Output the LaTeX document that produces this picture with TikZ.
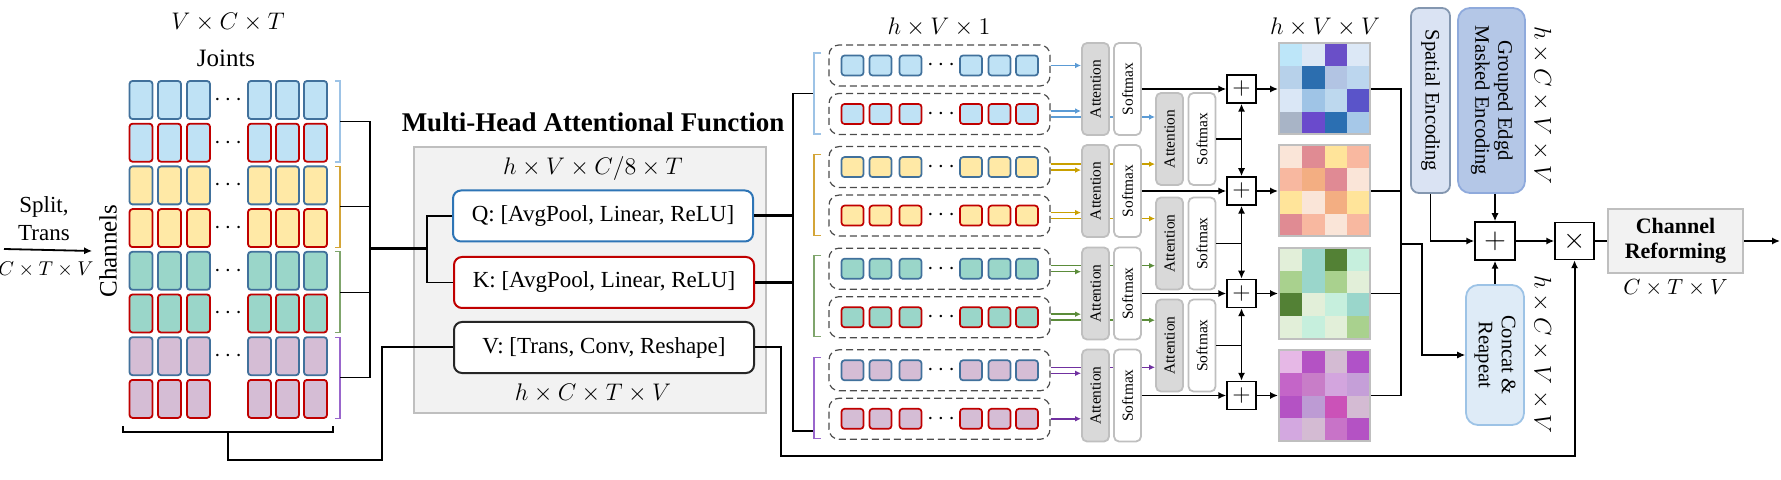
\documentclass[tikz,border=0pt]{standalone}
\usepackage{fontspec}
\setmainfont{Liberation Serif}
\usepackage{graphicx}
\usetikzlibrary{arrows.meta,backgrounds}

\definecolor{qblue}{HTML}{41719C}
\definecolor{kred}{HTML}{C00000}
\definecolor{qbox}{HTML}{2E75B6}
\definecolor{vbox}{HTML}{262626}
\definecolor{fblue}{HTML}{BFE2F5}
\definecolor{fyel}{HTML}{FFE9A6}
\definecolor{fgrn}{HTML}{9AD6C9}
\definecolor{fpur}{HTML}{D5BDD5}
\definecolor{bblue}{HTML}{9DC3E6}
\definecolor{byel}{HTML}{D4A537}
\definecolor{bgrn}{HTML}{7FA56C}
\definecolor{bpur}{HTML}{9966CC}
\definecolor{ablue}{HTML}{5B9BD5}
\definecolor{ayel}{HTML}{C9A000}
\definecolor{agrn}{HTML}{5B8C3A}
\definecolor{apur}{HTML}{7030A0}
\definecolor{boxgrey}{HTML}{BFBFBF}
\definecolor{panel}{HTML}{F2F2F2}
\definecolor{sefill}{HTML}{DAE3F3}
\definecolor{seline}{HTML}{8497B0}
\definecolor{gefill}{HTML}{B4C7E7}
\definecolor{geline}{HTML}{8FAADC}
\definecolor{crfill}{HTML}{DEEBF7}
\definecolor{crline}{HTML}{9DC3E6}

\begin{document}
\begin{tikzpicture}[x=0.5pt,y=-0.5pt,font=\fontsize{11.5}{13.8}\selectfont,
    cellbox/.style={draw,rounded corners=1.5pt,line width=0.9pt,minimum width=11.5pt,minimum height=19pt,inner sep=0pt},
    tok/.style={draw,rounded corners=1.5pt,line width=0.85pt,minimum width=11pt,minimum height=10pt,inner sep=0pt},
    rowbox/.style={draw=black!70,dash pattern=on 3.5pt off 2pt,rounded corners=5pt,line width=0.6pt,minimum width=110.5pt,minimum height=20.5pt},
    fnbox/.style={draw,rounded corners=4pt,line width=1pt,fill=white,minimum width=150pt,minimum height=25.5pt},
    attn/.style={draw=boxgrey,fill=black!15,rounded corners=2.5pt,line width=0.9pt,minimum width=13.5pt,minimum height=46pt,inner sep=0pt,font=\fontsize{7.7}{9}\selectfont},
    smax/.style={attn,fill=white},
    opbox/.style={draw,line width=0.75pt,fill=white,inner sep=0pt},
    enc/.style={draw,rounded corners=4pt,line width=0.9pt,minimum height=92.5pt,inner sep=0pt,font=\fontsize{10.3}{11.5}\selectfont},
    link/.style={line width=0.6pt},
    tip/.style={-{Latex[length=4pt,width=3.6pt]},line width=0.9pt},
    ctip/.style={-{Latex[length=3pt,width=2.8pt]},line width=0.7pt}]
\useasboundingbox (0,0) rectangle (1781,480);

% input and joint grid
\coordinate (in) at (4,249);
\node[rotate=90,font=\fontsize{12.5}{14}\selectfont] (chan) at (108,251) {Channels};
\draw[tip] (in) -- (chan.north);
\node[align=center,font=\fontsize{11.5}{14}\selectfont] (split) at (44,219) {Split,\\Trans};
\node[font=\fontsize{10}{12}\selectfont] (indim) at (46,270) {$C\times T\times V$};
\node (jdim) at (228,22) {$V\times C\times T$};
\node[font=\fontsize{12.5}{14}\selectfont] (joints) at (226,58) {Joints};

\foreach \g/\fc in {0/fblue,1/fyel,2/fgrn,3/fpur}
  \foreach \r/\ec in {0/qblue,1/kred}
    \foreach \x [count=\c] in {141,169.5,198.5,259.5,287.5,315.5}
      \node[cellbox,draw=\ec,fill=\fc] (c-\g-\r-\c) at (\x,{100+(2*\g+\r)*42.7}) {};
\foreach \k in {0,...,6}
  \node (cd-\k) at (228,{100+\k*42.7}) {$\cdots$};

\foreach \g/\bc in {0/bblue,1/byel,2/bgrn,3/bpur} {
  \draw[link,color=\bc] (335,{81+85.4*\g}) -- (340,{81+85.4*\g}) -- (340,{162+85.4*\g}) -- (335,{162+85.4*\g});
  \coordinate (lb-\g) at (340,{121.5+85.4*\g});
}
\draw[line width=0.6pt] (123,426) -- (123,432) -- (333,432) -- (333,426);
\coordinate (bb) at (228,432);
\coordinate (lj) at (370,249);
\coordinate (qk) at (427,249);
\coordinate (vb) at (382,460);
\draw[link] (lb-0) -| (lj) |- (lb-3);
\draw[link] (lb-1) -- (lb-1 -| lj);
\draw[link] (lb-2) -- (lb-2 -| lj);

% attentional function
\node[draw=boxgrey,fill=panel,line width=1pt,minimum width=176pt,minimum height=133pt] (mhaf) at (590,280) {};
\node[font=\bfseries\fontsize{13.5}{15}\selectfont] (title) at (593,122) {Multi-Head Attentional Function};
\node (qdim) at (593,169) {$h\times V\times C/8\times T$};
\node[fnbox,draw=qbox] (Q) at (603,216) {Q: [AvgPool, Linear, ReLU]};
\node[fnbox,draw=kred] (K) at (604,282.5) {K: [AvgPool, Linear, ReLU]};
\node[fnbox,draw=vbox] (V) at (604,347.5) {V: [Trans, Conv, Reshape]};
\node (vdim) at (593,393) {$h\times C\times T\times V$};

\draw[line width=1.5pt] (lj) -- (qk);
\draw[link] (Q.west) -| (qk) |- (K.west);
\draw[line width=1pt] (bb) |- (vb) |- (V.west);

% heads
\coordinate (rt) at (793,93.5);
\coordinate (rbt) at (793,431);
\coordinate (rb-0) at (814,93.5);
\coordinate (rb-3) at (814,431);
\draw[line width=1.5pt] (Q.east) -- (Q.east -| rt);
\draw[line width=1.5pt] (K.east) -- (K.east -| rt);
\draw[link] (rb-0) -- (rt) -- (rbt) -- (rb-3);
\foreach \g/\bc in {0/bblue,1/byel,2/bgrn,3/bpur}
  \draw[link,color=\bc] (821,{53+101.4*\g}) -- (814,{53+101.4*\g}) -- (814,{134+101.4*\g}) -- (821,{134+101.4*\g});

\node (hdim) at (939,27) {$h\times V\times 1$};
\foreach \g/\fc in {0/fblue,1/fyel,2/fgrn,3/fpur}
  \foreach \r/\ec in {0/qblue,1/kred} {
    \pgfmathsetmacro\ry{65.5+101.6*\g+48.5*\r}
    \node[rowbox] (row-\g-\r) at (939.5,\ry) {};
    \foreach \x [count=\c] in {852.5,880.5,910.5,971,999.5,1027}
      \node[tok,draw=\ec,fill=\fc] (t-\g-\r-\c) at (\x,\ry) {};
    \node (rd-\g-\r) at (941,\ry) {$\cdots$};
  }

\foreach \g/\yy in {0/89,1/191,2/293.5,3/395.5} {
  \node[attn] (a-\g) at (1095.5,\yy) {\rotatebox{90}{Attention}};
  \node[smax] (s-\g) at (1127.5,\yy) {\rotatebox{90}{Softmax}};
  \node[opbox,minimum width=14.5pt,minimum height=14pt,font=\fontsize{12}{12}\selectfont] (p-\g) at (1241.5,\yy) {$+$};
}
\foreach \k/\yy in {0/139,1/243.5,2/345.5} {
  \node[attn] (aa-\k) at (1169.5,\yy) {\rotatebox{90}{Attention}};
  \node[smax] (ss-\k) at (1202,\yy) {\rotatebox{90}{Softmax}};
}

\begin{scope}[on background layer]
\draw[ctip,ablue] (row-0-0.east) -- (row-0-0.east -| a-0.west);
\draw[ctip,apur] (row-3-1.east) -- (row-3-1.east -| a-3.west);
\foreach \g/\ac in {1/ayel,2/agrn,3/apur} {
  \pgfmathtruncatemacro\pg{\g-1}
  \path ([yshift=1.5pt]row-\g-0.east) coordinate (u) ([yshift=-1.5pt]row-\g-0.east) coordinate (d);
  \draw[ctip,color=\ac] (u) -- (u -| aa-\pg.west);
  \draw[ctip,color=\ac] (d) -- (d -| a-\g.west);
}
\foreach \g/\ac in {0/ablue,1/ayel,2/agrn} {
  \path ([yshift=1.5pt]row-\g-1.east) coordinate (u) ([yshift=-1.5pt]row-\g-1.east) coordinate (d);
  \draw[ctip,color=\ac] (u) -- (u -| a-\g.west);
  \draw[ctip,color=\ac] (d) -- (d -| aa-\g.west);
}
\end{scope}

% score maps
\node (mdim) at (1325,27) {$h\times V\times V$};
\foreach \g/\yy/\cols in {
    0/89/{BDE6F9,DDE8F5,6A4FC8,DCE8F6,B7D1EA,2C6EAF,B2C4E3,BCD6EE,DAE7F6,9FC4E6,BDD8EE,5A54C9,A8B4C6,6A4ACC,2B6FB2,A6C8E8},
    1/191/{FAE5D8,E08B93,FFE49A,F9B8A0,F8B8A0,F3AE82,E08A94,FAE5D8,FFE49A,FAE5D8,F3AE82,FFE49A,E08B93,F8B8A0,FAE5D8,F8B8A0},
    2/293.5/{E2EFD9,9AD6CB,538135,C6EFDD,A9D18E,9AD6CB,A9D18E,E2EFD9,538135,E2EFD9,C6EFDD,9AD6CB,E2EFD9,C6EFDD,E2EFD9,A9D18E},
    3/395.5/{E6B8E6,B452C4,D4BBD3,B052C8,C465C8,C87DC8,D3A5DE,C59FD8,B452C4,BD9BD4,CB52B8,D4BBD3,D3A8E0,D4BBD3,C873C8,B452C4}} {
  \foreach \hx [count=\k from 0] in \cols {
    \pgfmathtruncatemacro\hr{floor(\k/4)}
    \pgfmathtruncatemacro\hcl{mod(\k,4)}
    \edef\setcell{\noexpand\definecolor{hcell}{HTML}{\hx}}\setcell
    \fill[hcell] ({1279+22.75*\hcl},{\yy-45.5+22.75*\hr}) rectangle ++(22.75,22.75);
  }
  \node[draw=boxgrey,line width=1pt,minimum size=45.5pt,inner sep=0pt] (hm-\g) at (1324.5,\yy) {};
}

\foreach \g in {0,...,3} {
  \draw[tip] (s-\g.east) -- (p-\g.west);
  \draw[tip] (p-\g.east) -- (hm-\g.west);
}
\foreach \k in {0,1,2} {
  \pgfmathtruncatemacro\kn{\k+1}
  \draw[link] (ss-\k.east) -- (ss-\k.east -| p-\k.south);
  \draw[{Latex[length=4pt,width=3.6pt]}-{Latex[length=4pt,width=3.6pt]},line width=0.9pt] (p-\k.south) -- (p-\kn.north);
}

% fusion
\coordinate (hj) at (1401,244);
\coordinate (hk) at (1422,244);
\draw[link] (hm-0.east) -| (hj) |- (hm-3.east);
\draw[link] (hm-1.east) -- (hm-1.east -| hj);
\draw[link] (hm-2.east) -- (hm-2.east -| hj);

\node[enc,fill=sefill,draw=seline,minimum width=19.5pt] (se) at (1430.5,100.5) {\rotatebox{-90}{Spatial Encoding}};
\node[enc,fill=gefill,draw=geline,minimum width=33.5pt,rounded corners=6pt] (ge) at (1491.5,100.5) {\rotatebox{-90}{\begin{tabular}{@{}c@{}}Grouped Edgd\\Masked Encoding\end{tabular}}};
\node[rotate=-90] (gdim) at (1542,105) {$h\times C\times V\times V$};
\node[opbox,minimum width=20pt,minimum height=19pt,font=\fontsize{14}{14}\selectfont] (p5) at (1495,241) {$+$};
\node[opbox,minimum width=19.5pt,minimum height=18.5pt,font=\fontsize{14}{14}\selectfont] (mul) at (1574.5,241) {$\times$};
\node[enc,fill=crfill,draw=crline,minimum width=29pt,minimum height=70pt,rounded corners=6pt] (cr) at (1495,355) {\rotatebox{-90}{\begin{tabular}{@{}c@{}}Concat \&\\Reapeat\end{tabular}}};
\node[rotate=-90] (cdim) at (1542,354) {$h\times C\times V\times V$};
\node[draw=boxgrey,fill=panel,line width=1pt,minimum width=67.5pt,minimum height=32pt,align=center,font=\bfseries\fontsize{11}{12.5}\selectfont] (chr) at (1675.5,241) {Channel\\Reforming};
\node[font=\fontsize{11}{13}\selectfont] (odim) at (1675.5,288) {$C\times T\times V$};
\coordinate (out) at (1780,241);
\coordinate (vr) at (781,456);

\draw[tip,line width=0.6pt] (hj) -- (hk) |- (cr.west);
\draw[tip] (se.south) |- (p5.west);
\draw[tip] (p5.north |- ge.south) -- (p5.north);
\draw[tip] (cr.north) -- (p5.south);
\draw[tip] (p5.east) -- (mul.west);
\draw[link] (mul.east) -- (chr.west);
\draw[tip] (chr.east) -- (out);
\draw[tip,line width=1pt] (V.east) -| (vr) -| (mul.south);
\end{tikzpicture}
\end{document}
